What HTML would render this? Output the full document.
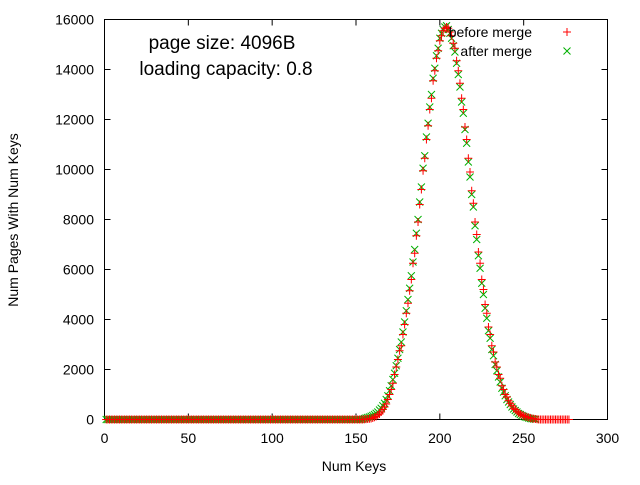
<!DOCTYPE html>
<html><head><meta charset="utf-8"><style>
body{margin:0;background:#fff}
svg text{font-family:"Liberation Sans",sans-serif;fill:#000}
</style></head><body>
<svg id="chart" width="640" height="480">
<rect x="104.5" y="19.5" width="503" height="400" fill="none" stroke="#000"/>
<g id="ticks"></g>
<g id="marks"></g>
<text x="222" y="49" font-size="19" text-anchor="middle">page size: 4096B</text>
<text x="226" y="75" font-size="19" text-anchor="middle">loading capacity: 0.8</text>
<text x="354" y="471" font-size="14" text-anchor="middle">Num Keys</text>
<text transform="translate(18,220) rotate(-90)" font-size="14" text-anchor="middle">Num Pages With Num Keys</text>
<g>
<text x="532" y="37" font-size="14" text-anchor="end">before merge</text>
<text x="532" y="56" font-size="14" text-anchor="end">after merge</text>
<path d="M563 32h8M567 28v8" stroke="#f00"/>
<path d="M563.5 47.5l7 7M570.5 47.5l-7 7" stroke="#00b000"/>
</g>
</svg>
<script>
const xTicks=[0,50,100,150,200,250,300];
const yTicks=[0,2000,4000,6000,8000,10000,12000,14000,16000];
const beforeStart=1;
const beforeValues=[0,0,0,0,0,0,0,0,0,0,0,0,0,0,0,0,0,0,0,0,0,0,0,0,0,0,0,0,0,0,0,0,0,0,0,0,0,0,0,0,0,0,0,0,0,0,0,0,0,0,0,0,0,0,0,0,0,0,0,0,0,0,0,0,0,0,0,0,0,0,0,0,0,0,0,0,0,0,0,0,0,0,0,0,0,0,0,0,0,0,0,0,0,0,0,0,0,0,0,0,0,0,0,0,0,0,0,0,0,0,0,0,0,0,0,0,0,0,0,0,0,0,0,0,0,0,0,0,0,0,0,0,0,0,0,0,0,0,0,0,0,0,0,0,0,0,0,0,0,
0,0,0,0,0,10,15,20,30,40,60,90,120,180,220,300,400,500,620,800,1000,1200,1450,1800,2100,2400,2750,2950,3400,3800,4250,4650,5150,5600,6250,6650,7350,7900,8600,9200,9950,10450,11200,11750,12400,12850,13550,13950,14450,14750,15150,15350,15550,15650,15700,15650,15500,15350,15050,14850,14350,13950,13450,12850,12400,11700,11200,10450,9900,9150,8650,7900,7400,6700,6250,5600,5200,4600,4250,3700,3400,2950,2700,2300,2100,1800,1650,1350,1200,1000,900,750,650,550,450,400,330,270,220,180,150,120,100,80,60,40,30,20,10,0,0,0,0,0,0,0,0,0,0,0,0,0,0,0,0,0,0,0];
const afterStart=1;
const afterValues=[0,0,0,0,0,0,0,0,0,0,0,0,0,0,0,0,0,0,0,0,0,0,0,0,0,0,0,0,0,0,0,0,0,0,0,0,0,0,0,0,0,0,0,0,0,0,0,0,0,0,0,0,0,0,0,0,0,0,0,0,0,0,0,0,0,0,0,0,0,0,0,0,0,0,0,0,0,0,0,0,0,0,0,0,0,0,0,0,0,0,0,0,0,0,0,0,0,0,0,0,0,0,0,0,0,0,0,0,0,0,0,0,0,0,0,0,0,0,0,0,0,0,0,0,0,0,0,0,0,0,0,0,0,0,0,0,0,0,0,0,0,0,0,0,0,0,0,0,0,
0,0,0,0,10,40,60,80,100,130,160,200,250,300,380,450,550,650,800,950,1150,1350,1600,1850,2150,2450,2800,3100,3500,3900,4350,4800,5250,5750,6300,6800,7450,8000,8700,9300,10050,10550,11300,11850,12500,13000,13650,14050,14550,14850,15250,15450,15600,15700,15750,15600,15450,15250,14950,14700,14250,13800,13300,12700,12250,11600,11050,10300,9700,9000,8500,7750,7200,6550,6050,5450,5000,4450,4050,3550,3250,2800,2550,2200,1950,1700,1500,1250,1100,950,800,700,600,500,420,360,300,240,200,160,130,100,80,60,40,30,20,10];
const X=v=>104.5+v*503/300, Y=v=>419.5-v*400/16000;
const ns="http://www.w3.org/2000/svg";
const tg=document.getElementById('ticks'), mg=document.getElementById('marks');
function mk(tag,attrs,parent){const e=document.createElementNS(ns,tag);for(const k in attrs)e.setAttribute(k,attrs[k]);parent.appendChild(e);return e;}
xTicks.forEach(t=>{
  const l=mk('path',{d:`M${X(t)} 419.5v-6M${X(t)} 19.5v6`,stroke:'#000'},tg);
  
  
  const tx=mk('text',{x:X(t),y:443,'font-size':14,'text-anchor':'middle'},tg);tx.textContent=t;
  
  
});
yTicks.forEach(t=>{
  const l=mk('path',{d:`M104.5 ${Y(t)}h6M607.5 ${Y(t)}h-6`,stroke:'#000'},tg);
  
  
  const tx=mk('text',{x:94,y:Y(t)+5,'font-size':14,'text-anchor':'end'},tg);tx.textContent=t;
  
  
});
afterValues.forEach((v,i)=>{
  const x=X(afterStart+i),y=Y(v);
  const p=mk('path',{d:`M${x-3.5} ${y-3.5}l7 7M${x+3.5} ${y-3.5}l-7 7`,stroke:'#00b000'},mg);
  
  
});
beforeValues.forEach((v,i)=>{
  const x=X(beforeStart+i),y=Y(v);
  const p=mk('path',{d:`M${x-4} ${y}h8M${x} ${y-4}v8`,stroke:'#f00'},mg);
  
  
});
</script>
</body></html>
